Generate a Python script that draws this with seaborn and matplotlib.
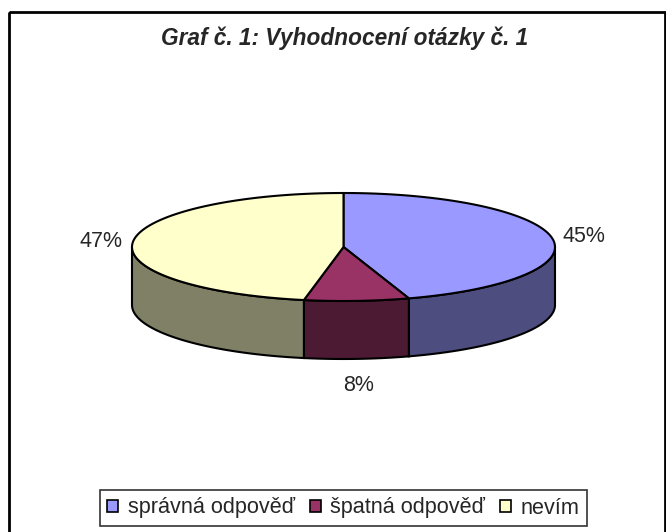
import matplotlib.pyplot as plt
import matplotlib.patches as mpatches
import numpy as np
import seaborn as sns

title = "Graf č. 1: Vyhodnocení otázky č. 1"
categories = ["správná odpověď", "špatná odpověď", "nevím"]
values = [45, 8, 47]
top_colors = ["#9999FF", "#993366", "#FFFFCC"]
side_colors = ["#4D4D80", "#4D1A33", "#808066"]

sns.set_theme(style="white")
plt.rcParams["font.family"] = ["Liberation Sans", "DejaVu Sans"]

W, H = 666, 532
fig = plt.figure(figsize=(W / 100, H / 100), dpi=100)
ax = fig.add_axes([0, 0, 1, 1])
ax.set_xlim(0, W)
ax.set_ylim(H, 0)
ax.axis("off")

# outer chart frame
ax.add_patch(mpatches.Rectangle((9, 12), 656, 530, fill=False, ec="black", lw=2))
ax.text(345, 38, title, ha="center", va="center", fontsize=16.3,
        fontweight="bold", fontstyle="italic")

# ellipse geometry (pixels)
cx, cy, rx, ry, depth = 343.5, 247, 211.5, 54, 58


def pt(t):
    r = np.deg2rad(t)
    return cx + rx * np.cos(r), cy - ry * np.sin(r)


fracs = np.array(values) / sum(values)
starts = 90 - 360 * np.concatenate([[0], np.cumsum(fracs)[:-1]])
ends = starts - 360 * fracs

# side walls (front half: angles between -180 and 0)
for s, e, c in zip(starts, ends, side_colors):
    a, b = min(s, 0), max(e, -180)
    if a <= b:
        continue
    ts = np.linspace(a, b, 80)
    xs, ys = pt(ts)
    poly = np.column_stack([np.concatenate([xs, xs[::-1]]),
                            np.concatenate([ys, ys[::-1] + depth])])
    ax.add_patch(mpatches.Polygon(poly, closed=True, fc=c, ec="black", lw=1.5))

# top slices
for s, e, c in zip(starts, ends, top_colors):
    ts = np.linspace(s, e, 150)
    xs, ys = pt(ts)
    poly = np.column_stack([np.concatenate([[cx], xs]), np.concatenate([[cy], ys])])
    ax.add_patch(mpatches.Polygon(poly, closed=True, fc=c, ec="black", lw=1.5,
                                  joinstyle="round"))

# percentage labels
for s, e, v in zip(starts, ends, values):
    m = np.deg2rad((s + e) / 2)
    x = cx + (rx + 32) * np.cos(m)
    y = cy - (ry + 25) * np.sin(m) + depth * max(0, -np.sin(m)) + 2
    ax.text(x, y, f"{v}%", ha="center", va="center", fontsize=15.5)

handles = [mpatches.Patch(fc=c, ec="black", lw=1.2, label=l)
           for c, l in zip(top_colors, categories)]
leg = fig.legend(handles=handles, loc="center", ncol=3,
                 bbox_to_anchor=(cx / W, 1 - 508 / H), fontsize=15.6,
                 frameon=True, fancybox=False, edgecolor="black",
                 handlelength=0.5, handleheight=0.5, handletextpad=0.45,
                 columnspacing=0.7, borderpad=0.35, borderaxespad=0)
leg.get_frame().set_linewidth(1.2)

fig.savefig("out.png", dpi=100)
